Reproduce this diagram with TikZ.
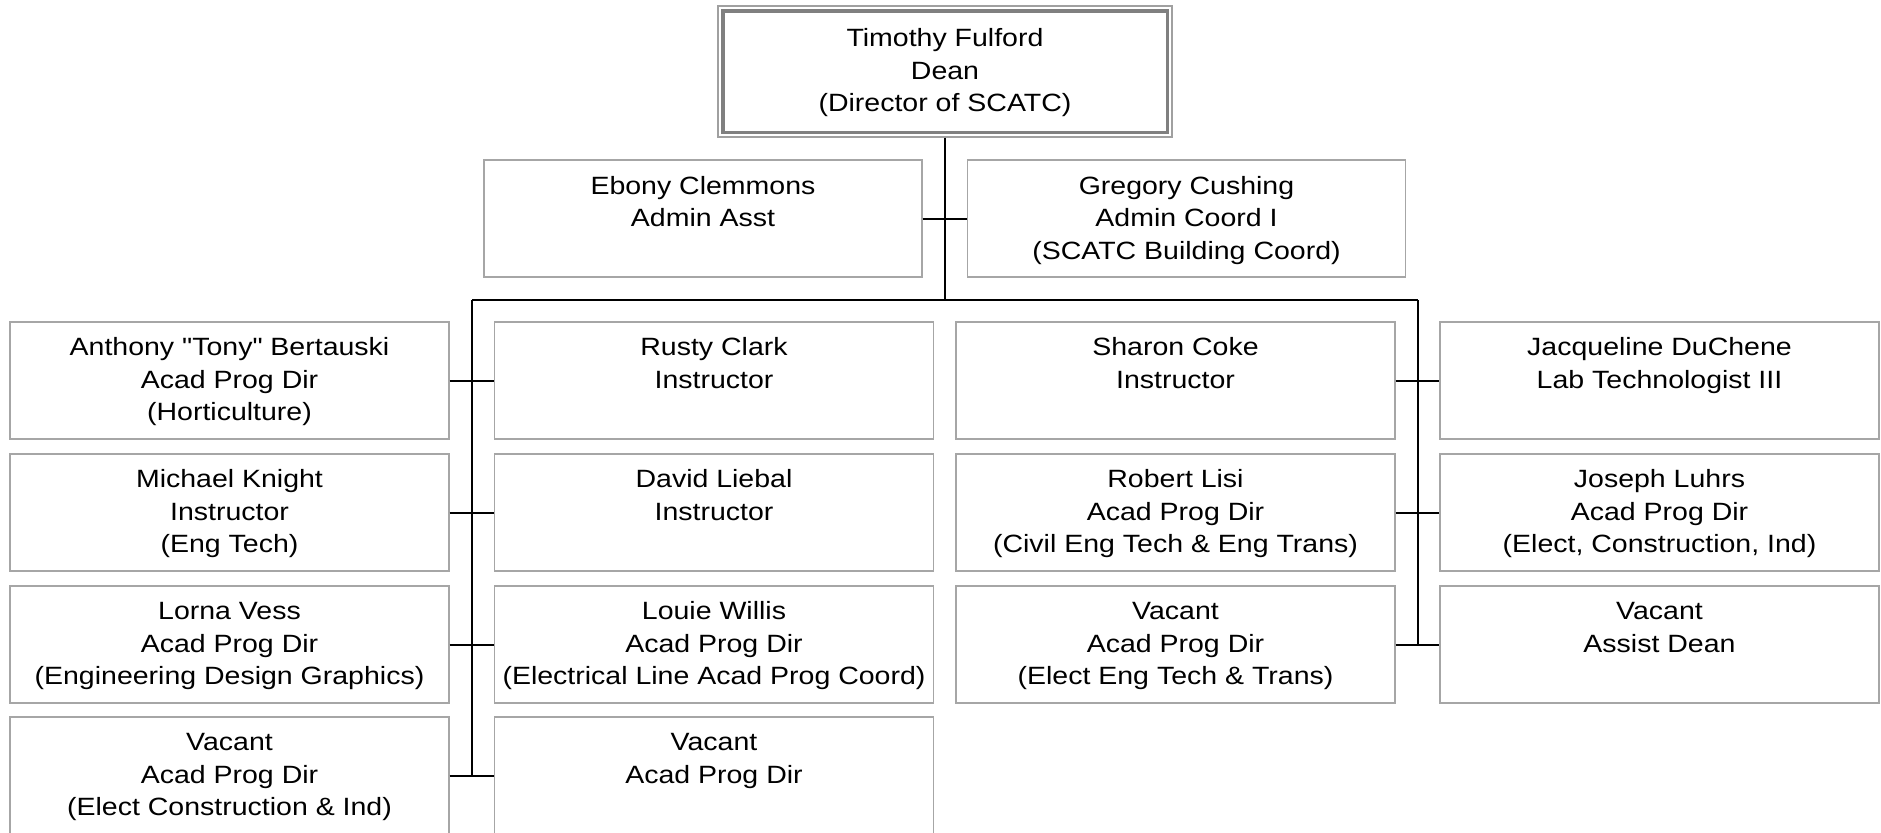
\documentclass[tikz,border=0pt]{standalone}
\usepackage{fontspec}
\setmainfont{Liberation Sans}[FakeStretch=1.14, Ligatures=TeXOff]
\definecolor{boxgray}{HTML}{A6A6A6}
\definecolor{deangray}{HTML}{808080}
\definecolor{outergray}{HTML}{A0A0A0}
\newcommand{\lines}[1]{\begin{tabular}[t]{@{}c@{}}#1\end{tabular}}
\begin{document}
\begin{tikzpicture}[x=0.5pt,y=-0.5pt,
  box/.style={draw=boxgray, line width=0.6pt, rectangle, minimum width=219.5pt,
    minimum height=58.5pt, inner sep=0pt,
    font=\fontsize{12.5}{16.25}\selectfont, text height=5pt, text depth=30pt},
  adminbox/.style={box, minimum width=219pt, text depth=29.5pt},
  deanbox/.style={box, draw=outergray, line width=0.65pt, minimum width=227pt,
    minimum height=65.5pt, text depth=29.8pt},
  conn/.style={draw=black, line width=1pt}]
\useasboundingbox (0,0) rectangle (1881,832);

% top
\node[deanbox] (dean) at (945,71.5) {\lines{Timothy Fulford\\Dean\\(Director of SCATC)}};
\draw[draw=deangray, line width=1.65pt] ([shift={(5.5,5.5)}]dean.north west) rectangle ([shift={(-5.5,-5.5)}]dean.south east);

% admin row
\node[adminbox] (ebony) at (703,218.5) {\lines{Ebony Clemmons\\Admin Asst}};
\node[adminbox] (gregory) at (1186.5,218.5) {\lines{Gregory Cushing\\Admin Coord I\\(SCATC Building Coord)}};

% column 1
\node[box] (a1) at (229.5,380.5) {\lines{Anthony "Tony" Bertauski\\Acad Prog Dir\\(Horticulture)}};
\node[box] (a2) at (229.5,512.5) {\lines{Michael Knight\\Instructor\\(Eng Tech)}};
\node[box] (a3) at (229.5,644.5) {\lines{Lorna Vess\\Acad Prog Dir\\(Engineering Design Graphics)}};
\node[box] (a4) at (229.5,775.5) {\lines{Vacant\\Acad Prog Dir\\(Elect Construction \& Ind)}};
% column 2
\node[box] (b1) at (714,380.5) {\lines{Rusty Clark\\Instructor}};
\node[box] (b2) at (714,512.5) {\lines{David Liebal\\Instructor}};
\node[box] (b3) at (714,644.5) {\lines{Louie Willis\\Acad Prog Dir\\(Electrical Line Acad Prog Coord)}};
\node[box] (b4) at (714,775.5) {\lines{Vacant\\Acad Prog Dir}};
% column 3
\node[box] (c1) at (1175.5,380.5) {\lines{Sharon Coke\\Instructor}};
\node[box] (c2) at (1175.5,512.5) {\lines{Robert Lisi\\Acad Prog Dir\\(Civil Eng Tech \& Eng Trans)}};
\node[box] (c3) at (1175.5,644.5) {\lines{Vacant\\Acad Prog Dir\\(Elect Eng Tech \& Trans)}};
% column 4
\node[box] (d1) at (1659.5,380.5) {\lines{Jacqueline DuChene\\Lab Technologist III}};
\node[box] (d2) at (1659.5,512.5) {\lines{Joseph Luhrs\\Acad Prog Dir\\(Elect, Construction, Ind)}};
\node[box] (d3) at (1659.5,644.5) {\lines{Vacant\\Assist Dean}};

% connectors
\coordinate (busc) at (945,300);
\coordinate (busl) at (472,300);
\coordinate (busr) at (1418,300);
\draw[conn] (dean.south) -- (busc);
\draw[conn] (ebony.east) -- (gregory.west);
\draw[conn] (busl) -- (busr);
\draw[conn] (busl) -- (busl |- a4.east);
\draw[conn] (busr) -- (busr |- d3.west);
\draw[conn] (a1.east) -- (b1.west);
\draw[conn] (a2.east) -- (b2.west);
\draw[conn] (a3.east) -- (b3.west);
\draw[conn] (a4.east) -- (b4.west);
\draw[conn] (c1.east) -- (d1.west);
\draw[conn] (c2.east) -- (d2.west);
\draw[conn] (c3.east) -- (d3.west);
\end{tikzpicture}
\end{document}
